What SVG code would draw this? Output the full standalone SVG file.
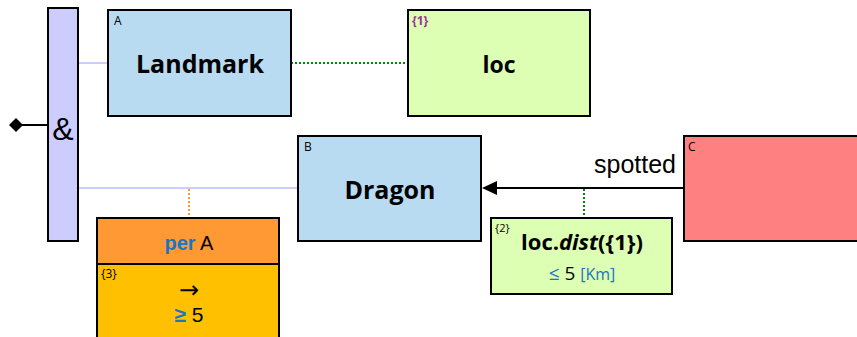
<svg xmlns="http://www.w3.org/2000/svg" width="857" height="337" viewBox="0 0 857 337">
<style>
.box{stroke:#000;stroke-width:2}
.blue{fill:#b9dbf1}
.green{fill:#ddffb3}
.lbl{font-family:"Open Sans","Noto Sans",sans-serif;font-size:12px;fill:#000}
.big{font-family:"Open Sans","Noto Sans",sans-serif;font-size:25px;font-weight:bold;fill:#000;text-anchor:middle}
.ar{font-family:"Liberation Sans",Arial,sans-serif;fill:#000}
.kw{fill:#1a75c2}
</style>
<defs>
<marker id="dia" markerWidth="14" markerHeight="14" refX="7" refY="7" orient="auto" markerUnits="userSpaceOnUse">
<path d="M0,7 L7,0 L14,7 L7,14 Z" fill="#000"/>
</marker>
</defs>
<g id="connectors">
<line x1="78" y1="63" x2="108" y2="63" stroke="#ccccff" stroke-width="2"/>
<line x1="78" y1="188" x2="298" y2="188" stroke="#ccccff" stroke-width="2"/>
<line x1="291" y1="63" x2="408" y2="63" stroke="#008800" stroke-width="2" stroke-dasharray="2,2"/>
<line x1="189" y1="189" x2="189" y2="218" stroke="#ff9933" stroke-width="2" stroke-dasharray="2,2"/>
<line x1="584" y1="189" x2="584" y2="218" stroke="#008800" stroke-width="2" stroke-dasharray="2,2"/>
<line x1="684" y1="188" x2="495" y2="188" stroke="#000" stroke-width="2"/>
<path d="M482,188 L497,181 L497,195 Z" fill="#000"/>
<line x1="48" y1="125" x2="16" y2="125" stroke="#000" stroke-width="2" marker-end="url(#dia)"/>
<text class="ar" x="676" y="173" font-size="25" text-anchor="end">spotted</text>
</g>
<g id="and">
<rect class="box" x="48" y="8" width="30" height="233" fill="#ccccff"/>
<text class="ar" x="63" y="140" font-size="32" text-anchor="middle">&amp;</text>
</g>
<g id="landmark">
<rect class="box blue" x="108" y="10" width="183" height="106"/>
<text class="lbl" x="114" y="25">A</text>
<text class="big" x="200" y="73">Landmark</text>
</g>
<g id="loc">
<rect class="box green" x="408" y="10" width="182" height="106"/>
<text class="lbl" x="412" y="25" style="fill:#993399;font-weight:bold">{1}</text>
<text class="big" x="499" y="73" style="font-size:23px">loc</text>
</g>
<g id="dragon">
<rect class="box blue" x="298" y="136" width="183" height="105"/>
<text class="lbl" x="304" y="151">B</text>
<text class="big" x="390" y="199">Dragon</text>
</g>
<g id="c">
<rect class="box" x="684" y="136" width="180" height="105" fill="#ff8080"/>
<text class="lbl" x="688" y="151">C</text>
</g>
<g id="dist">
<rect class="box green" x="491" y="218" width="181" height="76"/>
<text class="lbl" x="495" y="232" style="font-size:11px">{2}</text>
<text class="big" x="582" y="250" style="font-size:22px">loc.<tspan font-style="italic">dist</tspan>({1})</text>
<text x="582" y="280" text-anchor="middle" style="font-family:'Open Sans','Noto Sans',sans-serif;font-size:19px"><tspan class="kw">≤</tspan> 5 <tspan class="kw" font-size="16">[Km]</tspan></text>
</g>
<g id="per">
<rect class="box" x="97" y="218" width="182" height="46" fill="#ff9933" stroke="#333"/>
<text class="ar" x="189" y="250" font-size="20" text-anchor="middle"><tspan class="kw" font-weight="bold">per</tspan> A</text>
<rect class="box" x="97" y="264" width="182" height="80" fill="#ffc000" stroke="#333"/>
<text class="lbl" x="101" y="278" style="font-size:12px">{3}</text>
<text x="189" y="298" font-size="24" text-anchor="middle" style="font-family:'DejaVu Sans',sans-serif">→</text>
<text class="ar" x="189" y="322" font-size="21" text-anchor="middle"><tspan class="kw" font-weight="bold">≥</tspan> 5</text>
</g>
</svg>
